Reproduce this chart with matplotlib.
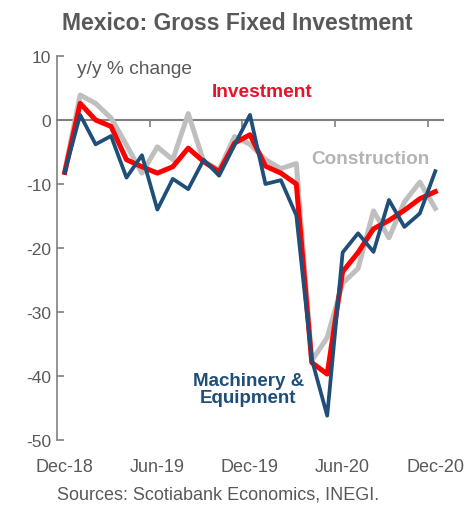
import numpy as np
import matplotlib.pyplot as plt

plt.rcParams['font.family'] = ['Liberation Sans', 'DejaVu Sans']
plt.rcParams['axes.unicode_minus'] = False

# monthly, Dec-18 .. Dec-20
months = ["Dec-18", "Jan-19", "Feb-19", "Mar-19", "Apr-19", "May-19", "Jun-19",
          "Jul-19", "Aug-19", "Sep-19", "Oct-19", "Nov-19", "Dec-19",
          "Jan-20", "Feb-20", "Mar-20", "Apr-20", "May-20", "Jun-20",
          "Jul-20", "Aug-20", "Sep-20", "Oct-20", "Nov-20", "Dec-20"]

investment = [-8.2, 2.6, 0.0, -1.0, -6.2, -7.3, -8.3, -7.3, -4.4, -6.5, -8.1, -3.6, -2.3,
              -7.2, -8.3, -10.0, -37.9, -39.7, -23.7, -20.7, -17.0, -15.7, -14.1, -12.3, -11.2]
construction = [-8.0, 3.9, 2.6, 0.3, -3.9, -8.3, -4.2, -6.2, 1.0, -6.5, -7.8, -2.6, -3.8,
                -6.2, -7.6, -6.8, -37.6, -34.0, -25.5, -23.2, -14.2, -18.4, -12.8, -9.7, -13.8]
machinery = [-8.2, 0.8, -3.8, -2.5, -9.0, -5.5, -14.0, -9.2, -10.8, -6.2, -8.7, -3.9, 0.8,
             -10.0, -9.4, -14.9, -37.4, -46.2, -20.7, -17.7, -20.6, -12.5, -16.7, -14.6, -8.0]

tick_labels = ["Dec-18", "Jun-19", "Dec-19", "Jun-20", "Dec-20"]

txt = "#595959"
red = "#FF0000"
grey = "#BFBFBF"
blue = "#1F4E79"

x = np.arange(len(months))

fig = plt.figure(figsize=(4.69, 5.06), dpi=100)
ax = fig.add_axes([57/469, 1 - 441/506, (443 - 57)/469, (441 - 57)/506])

ax.plot(x, construction, color=grey, lw=3.6, zorder=2)
ax.plot(x, investment, color=red, lw=3.6, zorder=3)
ax.plot(x, machinery, color=blue, lw=2.7, zorder=4)

ax.set_xlim(-0.5, len(months) - 0.5)
ax.set_ylim(-50, 10)
ax.set_yticks(np.arange(-50, 11, 10))
ax.tick_params(axis="y", direction="in", length=5, width=1.2, color="#808080",
               labelsize=12.5, labelcolor=txt, pad=4)

# category labels along the bottom, no tick marks
ax.set_xticks(x[::6])
ax.set_xticklabels(tick_labels)
ax.tick_params(axis="x", length=0, labelsize=13, labelcolor=txt, pad=13)

for s in ["top", "right", "bottom"]:
    ax.spines[s].set_visible(False)
ax.spines["left"].set_color("#808080")
ax.spines["left"].set_linewidth(1.2)

# zero line acting as the x axis, ticks between half-years
zero = ax.secondary_xaxis(0, transform=ax.transData)
zero.set_xticks(x[::6][1:] - 0.5)
zero.set_xticklabels([])
zero.tick_params(axis="x", direction="out", length=5, width=1.2, color="#808080")
zero.spines["bottom"].set_color("#808080")
zero.spines["bottom"].set_linewidth(1.5)

ax.text(0.8, 8.1, "y/y % change", color=txt, fontsize=13.8, va="center", ha="left")
ax.text(12.8, 4.5, "Investment", color="#E8132B", fontsize=13.8, fontweight="bold",
        ha="center", va="center")
ax.text(19.8, -6.0, "Construction", color="#B4B4B4", fontsize=13.7, fontweight="bold",
        ha="center", va="center")
ax.text(11.9, -42.0, "Machinery &\nEquipment", color=blue, fontsize=13.5, fontweight="bold",
        ha="center", va="center", linespacing=1.0)

fig.text(237/469, 1 - 23/506, "Mexico: Gross Fixed Investment", color=txt,
         fontsize=16.5, fontweight="bold", ha="center", va="center")
fig.text(57/469, 1 - 495/506, "Sources: Scotiabank Economics, INEGI.", color=txt,
         fontsize=13, ha="left", va="center")

fig.savefig("out.png", dpi=100)
